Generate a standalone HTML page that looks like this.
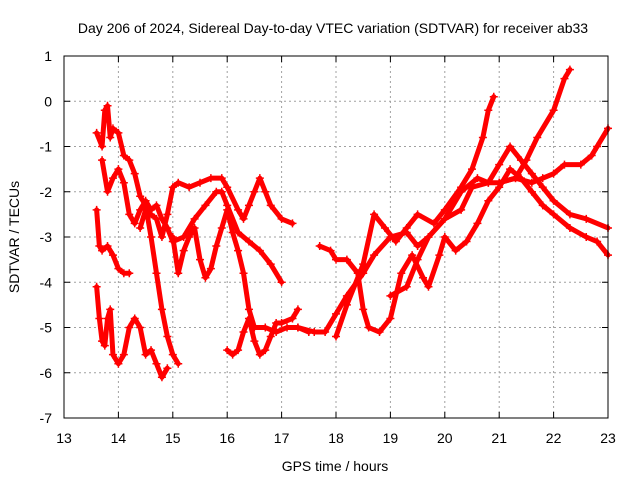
<!DOCTYPE html>
<html><head><meta charset="utf-8">
<style>
html,body{margin:0;padding:0;background:#fff;}
svg{display:block;font-family:"Liberation Sans",sans-serif;}
</style></head>
<body>
<svg id="chart" width="640" height="480" viewBox="0 0 640 480" xmlns="http://www.w3.org/2000/svg">
<rect width="640" height="480" fill="#fff"/>
<text x="333" y="33" font-size="14" text-anchor="middle">Day 206 of 2024, Sidereal Day-to-day VTEC variation (SDTVAR) for receiver ab33</text>
<text x="335" y="471" font-size="14" text-anchor="middle">GPS time / hours</text>
<text x="19" y="237" font-size="14" text-anchor="middle" transform="rotate(-90 19 237)">SDTVAR / TECUs</text>
<g id="grid"></g>
<g id="series"></g>
<rect x="64" y="56" width="544" height="362" fill="none" stroke="#000" stroke-width="1"/>
<g id="ticks"></g>
</svg>
<script>
const xTicks = [13,14,15,16,17,18,19,20,21,22,23];
const yTicks = [1,0,-1,-2,-3,-4,-5,-6,-7];
const s1 = [[13.6,-4.1],[13.65,-4.8],[13.7,-5.3],[13.75,-5.4],[13.8,-4.8],[13.85,-4.6],[13.9,-5.6],[14.0,-5.8],[14.1,-5.6],[14.2,-5.0],[14.3,-4.8],[14.4,-5.0],[14.5,-5.6],[14.6,-5.5],[14.7,-5.8],[14.8,-6.1],[14.9,-5.9]];
const s2 = [[13.6,-2.4],[13.65,-3.2],[13.7,-3.3],[13.8,-3.2],[13.9,-3.4],[14.0,-3.7],[14.1,-3.8],[14.2,-3.8]];
const s3 = [[13.6,-0.7],[13.7,-1.0],[13.75,-0.2],[13.8,-0.1],[13.85,-0.8],[13.9,-0.6],[14.0,-0.7],[14.1,-1.2],[14.2,-1.3],[14.3,-1.6],[14.4,-2.1],[14.5,-2.3],[14.6,-3.0],[14.7,-3.8],[14.8,-4.6],[14.9,-5.2],[15.0,-5.6],[15.1,-5.8]];
const s4 = [[13.7,-1.3],[13.8,-2.0],[13.9,-1.7],[14.0,-1.5],[14.1,-1.8],[14.2,-2.5],[14.3,-2.7],[14.4,-2.4],[14.5,-2.2],[14.6,-2.4],[14.7,-2.3],[14.8,-2.6],[14.9,-2.8],[15.0,-3.1],[15.2,-3.0],[15.4,-2.6],[15.6,-2.3],[15.8,-2.0],[15.9,-2.0],[16.0,-2.3],[16.2,-2.9],[16.4,-3.1],[16.6,-3.3],[16.8,-3.6],[17.0,-4.0]];
const s5 = [[14.4,-2.8],[14.5,-2.4],[14.6,-2.5],[14.7,-2.6],[14.8,-3.0],[14.9,-2.5],[15.0,-1.9],[15.1,-1.8],[15.3,-1.9],[15.5,-1.8],[15.7,-1.7],[15.9,-1.7],[16.0,-1.9],[16.2,-2.4],[16.3,-2.6],[16.4,-2.3],[16.5,-2.0],[16.6,-1.7],[16.7,-2.0],[16.8,-2.3],[17.0,-2.6],[17.2,-2.7]];
const s6 = [[15.0,-3.0],[15.1,-3.8],[15.2,-3.3],[15.3,-3.0],[15.4,-2.8],[15.5,-3.5],[15.6,-3.9],[15.7,-3.7],[15.8,-3.2],[15.9,-2.8],[16.0,-2.4],[16.1,-2.9],[16.2,-3.3],[16.3,-3.8],[16.4,-4.6],[16.5,-5.0],[16.7,-5.0],[16.9,-5.1],[17.1,-5.0],[17.3,-5.0],[17.5,-5.1]];
const s7 = [[16.0,-5.5],[16.1,-5.6],[16.2,-5.5],[16.3,-5.1],[16.4,-4.8],[16.5,-5.3],[16.6,-5.6],[16.7,-5.5],[16.8,-5.2],[16.9,-4.9],[17.0,-4.9],[17.2,-4.8],[17.3,-4.6]];
const s8 = [[17.3,-5.0],[17.6,-5.1],[17.8,-5.1],[18.0,-4.7],[18.2,-4.3],[18.5,-3.8],[18.7,-3.4],[19.0,-3.0],[19.3,-2.9],[19.5,-3.2],[19.7,-3.0],[20.0,-2.6],[20.3,-2.0],[20.6,-1.7],[20.8,-1.8],[21.0,-1.4],[21.2,-1.0],[21.4,-1.3],[21.6,-1.6],[21.8,-1.9],[22.0,-2.2],[22.3,-2.5],[22.6,-2.6],[23.0,-2.8]];
const s9 = [[17.7,-3.2],[17.9,-3.3],[18.0,-3.5],[18.2,-3.5],[18.4,-3.8],[18.5,-4.6],[18.6,-5.0],[18.8,-5.1],[19.0,-4.8],[19.2,-3.8],[19.4,-3.4],[19.6,-3.9],[19.7,-4.1],[19.9,-3.4],[20.0,-3.0],[20.2,-3.3],[20.4,-3.1],[20.6,-2.7],[20.8,-2.2],[21.0,-1.9],[21.2,-1.5],[21.4,-1.7],[21.6,-2.0],[21.8,-2.3],[22.0,-2.5],[22.3,-2.8],[22.6,-3.0],[22.8,-3.1],[23.0,-3.4]];
const s10 = [[18.0,-5.2],[18.2,-4.5],[18.5,-3.6],[18.7,-2.5],[18.9,-2.8],[19.1,-3.1],[19.3,-2.8],[19.5,-2.5],[19.8,-2.7],[20.0,-2.4],[20.3,-1.9],[20.5,-1.5],[20.7,-0.8],[20.8,-0.2],[20.9,0.1]];
const s11 = [[19.0,-4.3],[19.3,-4.1],[19.5,-3.5],[19.7,-3.0],[20.0,-2.6],[20.3,-2.4],[20.5,-1.9],[20.8,-1.8],[21.0,-1.8],[21.3,-1.7],[21.5,-1.3],[21.7,-0.8],[22.0,-0.2],[22.2,0.5],[22.3,0.7]];
const s12 = [[21.0,-1.8],[21.3,-1.7],[21.6,-1.8],[21.8,-1.7],[22.0,-1.6],[22.2,-1.4],[22.5,-1.4],[22.7,-1.2],[22.8,-1.0],[23.0,-0.6]];
const allSeries = [s1,s2,s3,s4,s5,s6,s7,s8,s9,s10,s11,s12];

const NS = "http://www.w3.org/2000/svg";
const X0=64, X1=608, Y0=418, Y1=56;
function xs(v){return X0+(v-13)/(23-13)*(X1-X0);}
function ys(v){return Y0-(v-(-7))/(1-(-7))*(Y0-Y1);}
function mk(tag, attrs){const e=document.createElementNS(NS,tag);for(const k in attrs)e.setAttribute(k,attrs[k]);return e;}

const grid=document.getElementById('grid'), ticks=document.getElementById('ticks'), ser=document.getElementById('series');
xTicks.forEach(t=>{
  const x=xs(t);
  if(t>13&&t<23){const g=mk('line',{x1:x,x2:x,y1:Y1,y2:Y0,stroke:'#a0a0a0','stroke-dasharray':'2,3','stroke-width':1});
  
  
  grid.appendChild(g);}
  const tk=mk('path',{d:`M${x},${Y0}v-6M${x},${Y1}v6`,stroke:'#000'});
  
  
  ticks.appendChild(tk);
  const lb=mk('text',{x:x,y:443,'font-size':14,'text-anchor':'middle'});lb.textContent=t;
  
  
  ticks.appendChild(lb);
});
yTicks.forEach(t=>{
  const y=ys(t);
  if(t<1&&t>-7){const g=mk('line',{x1:X0,x2:X1,y1:y,y2:y,stroke:'#a0a0a0','stroke-dasharray':'2,3','stroke-width':1});
  
  
  grid.appendChild(g);}
  const tk=mk('path',{d:`M${X0},${y}h6M${X1},${y}h-6`,stroke:'#000'});
  
  
  ticks.appendChild(tk);
  const lb=mk('text',{x:52,y:y+5,'font-size':14,'text-anchor':'end'});lb.textContent=t;
  
  
  ticks.appendChild(lb);
});
allSeries.forEach((s,i)=>{
  const pts=s.map(p=>xs(p[0])+','+ys(p[1])).join(' ');
  const pl=mk('polyline',{points:pts,fill:'none',stroke:'#ff0000','stroke-width':5,'stroke-linejoin':'round','stroke-linecap':'round'});
  
  
  ser.appendChild(pl);
  s.forEach(p=>{
    const x=xs(p[0]), y=ys(p[1]);
    const m=mk('path',{d:`M${x-4},${y}h8M${x},${y-4}v8`,stroke:'#ff0000','stroke-width':1.5});
    
    
    ser.appendChild(m);
  });
});
</script>
</body></html>
